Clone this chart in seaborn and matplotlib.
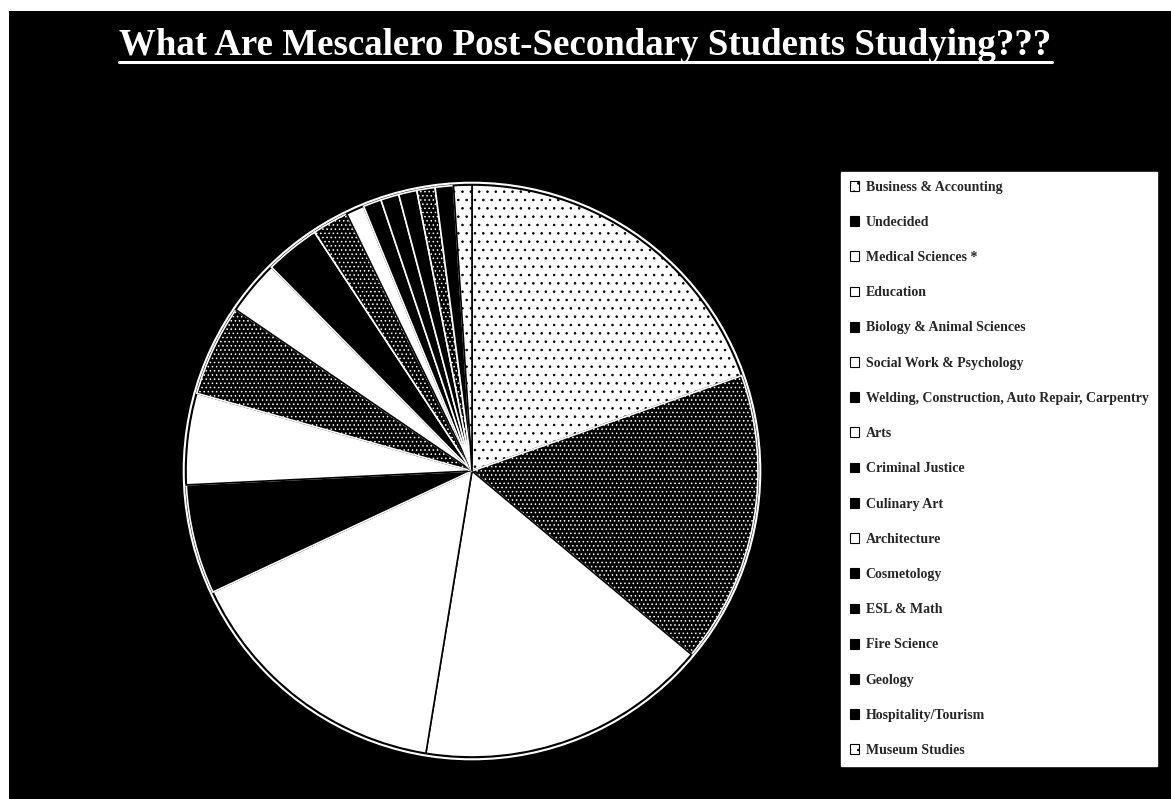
import matplotlib
matplotlib.use("Agg")
import matplotlib.pyplot as plt
from matplotlib.patches import Rectangle, Circle
from matplotlib.lines import Line2D
import seaborn as sns

# Number of students by field of study
fields = [
    "Business & Accounting",
    "Undecided",
    "Medical Sciences *",
    "Education",
    "Biology & Animal Sciences",
    "Social Work & Psychology",
    "Welding, Construction, Auto Repair, Carpentry",
    "Arts",
    "Criminal Justice",
    "Culinary Art",
    "Architecture",
    "Cosmetology",
    "ESL & Math",
    "Fire Science",
    "Geology",
    "Hospitality/Tourism",
    "Museum Studies",
]
students = [19, 16, 16, 15, 6, 5, 5, 3, 3, 2, 1, 1, 1, 1, 1, 1, 1]

title = "What Are Mescalero Post-Secondary Students Studying???"

# Monochrome fills: (face, edge/hatch colour, hatch)
fills = [
    ("white", "black", ".."),
    ("black", "white", "...."),
    ("white", "black", None),
    ("white", "black", None),
    ("black", "white", None),
    ("white", "black", None),
    ("black", "white", "...."),
    ("white", "black", None),
    ("black", "white", None),
    ("black", "white", "...."),
    ("white", "black", None),
    ("black", "white", None),
    ("black", "white", None),
    ("black", "white", None),
    ("black", "white", "...."),
    ("black", "white", None),
    ("white", "black", ".."),
]

sns.set_theme(style="white")
plt.rcParams["font.family"] = ["Liberation Serif", "DejaVu Serif"]
plt.rcParams["hatch.linewidth"] = 0.6

W, H = 1171, 799
fig = plt.figure(figsize=(W / 100, H / 100), dpi=100)
fig.patch.set_facecolor("black")
# pale margins along the top and left edges of the slide
fig.patches.append(Rectangle((0, 1 - 11 / H), 1, 11 / H, transform=fig.transFigure,
                             facecolor="white", edgecolor="none"))
fig.patches.append(Rectangle((0, 0), 9 / W, 1, transform=fig.transFigure,
                             facecolor="white", edgecolor="none"))

cx, cy, r = 472, 471, 286
pad = 1.02
ax = fig.add_axes([(cx - r * pad) / W, (H - cy - r * pad) / H,
                   2 * r * pad / W, 2 * r * pad / H])
ax.set_facecolor("black")

wedges, _ = ax.pie(students, startangle=90, counterclock=False,
                   radius=1.0, wedgeprops=dict(linewidth=1.2))
for w, (fc, ec, hatch) in zip(wedges, fills):
    w.set_facecolor(fc)
    w.set_edgecolor(ec)
    if hatch:
        w.set_hatch(hatch)
ax.add_patch(Circle((0, 0), 1.008, fill=False, edgecolor="white", linewidth=1.5))
ax.set_xlim(-pad, pad)
ax.set_ylim(-pad, pad)
ax.set_aspect("equal")
ax.axis("off")

# Title with underline
t = fig.text(0.5, 1 - 55 / H, title, ha="center", va="baseline",
             color="white", fontsize=26.6, fontweight="bold")
fig.canvas.draw()
bb = t.get_window_extent()
fig.lines.append(Line2D([bb.x0 / W, bb.x1 / W], [1 - 62 / H, 1 - 62 / H],
                        transform=fig.transFigure, color="white", linewidth=2.2))

leg = fig.legend(wedges, fields, loc="upper left",
                 bbox_to_anchor=(841 / W, 1 - 172 / H),
                 frameon=True, prop=dict(weight="bold", size=10),
                 handlelength=0.7, handleheight=0.7, handletextpad=0.45,
                 labelspacing=1.6, borderpad=0.62, borderaxespad=0,
                 fancybox=False)
leg.get_frame().set_facecolor("white")
leg.get_frame().set_edgecolor("white")
leg.get_frame().set_alpha(1)
for h in leg.legend_handles:
    h.set_edgecolor("black")
    h.set_linewidth(0.8)

fig.savefig("out.png", dpi=100, facecolor=fig.get_facecolor())
